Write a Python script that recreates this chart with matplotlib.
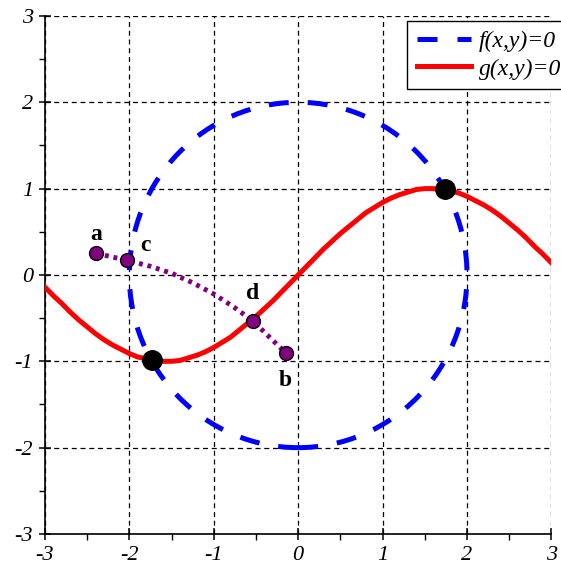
import numpy as np
import matplotlib.pyplot as plt
from matplotlib.patches import Circle
from matplotlib.lines import Line2D
from matplotlib.ticker import MultipleLocator

plt.rcParams["axes.unicode_minus"] = False

# circle f(x,y)=0: centre and radius
circle_center = (0.0, 0.0)
circle_radius = 2.0

# red curve g(x,y)=0
curve_x = [-3.0, -2.9, -2.8, -2.7, -2.6, -2.5, -2.4, -2.3, -2.2, -2.1,
           -2.0, -1.9, -1.8, -1.7, -1.6, -1.5, -1.4, -1.3, -1.2, -1.1,
           -1.0, -0.9, -0.8, -0.7, -0.6, -0.5, -0.4, -0.3, -0.2, -0.1,
           0.0, 0.1, 0.2, 0.3, 0.4, 0.5, 0.6, 0.7, 0.8, 0.9,
           1.0, 1.1, 1.2, 1.3, 1.4, 1.5, 1.6, 1.7, 1.8, 1.9,
           2.0, 2.1, 2.2, 2.3, 2.4, 2.5, 2.6, 2.7, 2.8, 2.9, 3.0]
curve_y = [-0.14, -0.24, -0.33, -0.43, -0.52, -0.60, -0.68, -0.75, -0.81, -0.86,
           -0.91, -0.95, -0.97, -0.99, -1.00, -1.00, -0.99, -0.96, -0.93, -0.89,
           -0.84, -0.78, -0.72, -0.64, -0.56, -0.48, -0.39, -0.30, -0.20, -0.10,
           0.00, 0.10, 0.20, 0.30, 0.39, 0.48, 0.56, 0.64, 0.72, 0.78,
           0.84, 0.89, 0.93, 0.96, 0.99, 1.00, 1.00, 0.99, 0.97, 0.95,
           0.91, 0.86, 0.81, 0.75, 0.68, 0.60, 0.52, 0.43, 0.33, 0.24, 0.14]

# dotted iteration path a -> c -> d -> b
path_x = [-2.39, -2.03, -1.75, -1.50, -1.25, -1.00, -0.75, -0.54, -0.35, -0.15]
path_y = [0.25, 0.17, 0.10, 0.02, -0.09, -0.22, -0.38, -0.53, -0.71, -0.90]

# labelled points
pt_names = ["a", "c", "d", "b"]
pt_x = [-2.39, -2.03, -0.54, -0.15]
pt_y = [0.25, 0.17, -0.53, -0.90]

# intersections
sol_x = [-1.73, 1.74]
sol_y = [-0.99, 0.99]

fig = plt.figure(figsize=(5.61, 5.69), dpi=100)
ax = fig.add_axes([0.080, 0.0615, 0.903, 0.9105])

ax.set_xlim(-3, 3)
ax.set_ylim(-3, 3)

# grid
ax.xaxis.set_major_locator(MultipleLocator(1))
ax.yaxis.set_major_locator(MultipleLocator(1))
ax.xaxis.set_minor_locator(MultipleLocator(0.5))
ax.yaxis.set_minor_locator(MultipleLocator(0.5))
ax.grid(True, which="major", color="black", linestyle=(0, (4, 3)), linewidth=0.9)
ax.set_axisbelow(True)

for s in ["top", "right"]:
    ax.spines[s].set_visible(False)
for s in ["left", "bottom"]:
    ax.spines[s].set_linewidth(1.2)

ax.tick_params(which="major", direction="inout", length=9, width=1.1, pad=4)
ax.tick_params(which="minor", direction="out", length=4, width=1.0)
for lab in ax.get_xticklabels() + ax.get_yticklabels():
    lab.set_family("Liberation Serif")
    lab.set_style("italic")
    lab.set_fontsize(16)

# curves
circ = Circle(circle_center, circle_radius, fill=False, edgecolor="#0000ff",
              linewidth=3.6, linestyle=(0, (4.0, 3.8)), zorder=3)
ax.add_patch(circ)
ax.plot(curve_x, curve_y, color="#ff0000", linewidth=3.6, zorder=3)

ax.plot(path_x, path_y, color="#800080", linewidth=3.5,
        linestyle=(0, (0.8, 1.0)), zorder=4)
ax.plot(pt_x, pt_y, "o", markersize=10, markerfacecolor="#800080",
        markeredgecolor="black", markeredgewidth=1.0, zorder=5)
ax.plot(sol_x, sol_y, "o", markersize=14, color="black", zorder=5)

offsets = {"a": (0.0, 0.22), "c": (0.22, 0.17), "d": (0.0, 0.32), "b": (0.0, -0.32)}
for name, x, y in zip(pt_names, pt_x, pt_y):
    dx, dy = offsets[name]
    ax.text(x + dx, y + dy, name, family="Liberation Serif", fontweight="bold",
            fontsize=17, ha="center", va="center", zorder=6)

handles = [Line2D([], [], color="#0000ff", linewidth=3.6, linestyle=(0, (4.0, 4.0))),
           Line2D([], [], color="#ff0000", linewidth=3.6)]
leg = ax.legend(handles, ["f(x,y)=0", "g(x,y)=0"], loc="upper left",
                bbox_to_anchor=(0.715, 0.99), borderaxespad=0.0,
                fancybox=False, framealpha=1,
                edgecolor="black", handlelength=2.3, handletextpad=0.35,
                borderpad=0.4, labelspacing=0.25,
                prop={"family": "Liberation Serif", "style": "italic", "size": 17})
leg.get_frame().set_linewidth(1.0)

fig.savefig("out.png", dpi=100)
